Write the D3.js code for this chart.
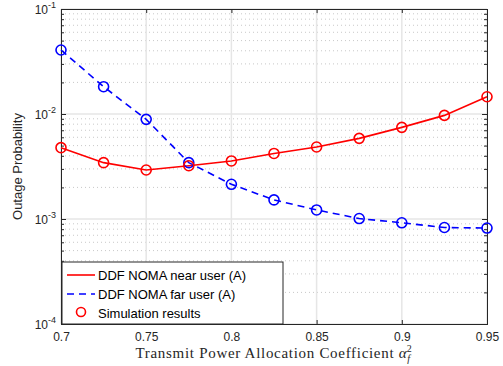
<!DOCTYPE html>
<html>
<head>
<meta charset="utf-8">
<script src="https://cdn.jsdelivr.net/npm/d3@7"></script>
<style>
  body { margin: 0; background: #fff; }
  text { font-family: "Liberation Sans", Arial, sans-serif; }
</style>
</head>
<body>
<div id="chart"></div>
<script>
// data
const alpha = [0.7, 0.725, 0.75, 0.775, 0.8, 0.825, 0.85, 0.875, 0.9, 0.925, 0.95];
const nearUser = [4.78e-3, 3.44e-3, 2.93e-3, 3.22e-3, 3.57e-3, 4.21e-3, 4.85e-3, 5.86e-3, 7.46e-3, 9.7e-3, 1.46e-2];
const farUser = [4.07e-2, 1.82e-2, 8.89e-3, 3.44e-3, 2.14e-3, 1.52e-3, 1.22e-3, 1.01e-3, 9.2e-4, 8.3e-4, 8.2e-4];
const xTicks = [0.7, 0.75, 0.8, 0.85, 0.9, 0.95];
const yDecades = [-4, -3, -2, -1];
const legendItems = ["DDF NOMA near user (A)", "DDF NOMA far user (A)", "Simulation results"];

const W = 503, H = 366;
const margin = { left: 61, right: 16, top: 9, bottom: 42 };
const innerW = W - margin.left - margin.right;
const innerH = H - margin.top - margin.bottom;

const svg = d3.select("#chart").append("svg").attr("width", W).attr("height", H);
const g = svg.append("g").attr("transform", `translate(${margin.left},${margin.top})`);

const x = d3.scaleLinear().domain([0.7, 0.95]).range([0, innerW]);
const y = d3.scaleLog().domain([1e-4, 1e-1]).range([innerH, 0]);

// minor grid (dotted)
const minor = [];
for (let e = -4; e < -1; e++) for (let m = 2; m <= 9; m++) minor.push(m * Math.pow(10, e));
g.append("g").selectAll("line").data(minor).join("line")
  .attr("x1", 0).attr("x2", innerW)
  .attr("y1", d => y(d)).attr("y2", d => y(d))
  .attr("stroke", "#c8c8c8").attr("stroke-width", 1).attr("stroke-dasharray", "1,3");

// major grid
g.append("g").selectAll("line").data(xTicks).join("line")
  .attr("x1", d => x(d)).attr("x2", d => x(d)).attr("y1", 0).attr("y2", innerH)
  .attr("stroke", "#e6e6e6").attr("stroke-width", 1.5);
g.append("g").selectAll("line").data(yDecades).join("line")
  .attr("x1", 0).attr("x2", innerW)
  .attr("y1", d => y(Math.pow(10, d))).attr("y2", d => y(Math.pow(10, d)))
  .attr("stroke", "#e6e6e6").attr("stroke-width", 1.5);

// axes (ticks inside, boxed)
const axisColor = "#262626";
const axB = g.append("g").attr("transform", `translate(0,${innerH})`)
  .call(d3.axisBottom(x).tickValues(xTicks).tickSize(-4).tickPadding(8).tickFormat(d => d3.format("")(d)));
const axT = g.append("g")
  .call(d3.axisTop(x).tickValues(xTicks).tickSize(-4).tickFormat(""));
const axL = g.append("g")
  .call(d3.axisLeft(y).tickValues(yDecades.map(d => Math.pow(10, d))).tickSize(-5).tickPadding(6).tickFormat(""));
const axR = g.append("g").attr("transform", `translate(${innerW},0)`)
  .call(d3.axisRight(y).tickValues(yDecades.map(d => Math.pow(10, d))).tickSize(-5).tickFormat(""));
const axLm = g.append("g").call(d3.axisLeft(y).tickValues(minor).tickSize(-3).tickFormat(""));
const axRm = g.append("g").attr("transform", `translate(${innerW},0)`)
  .call(d3.axisRight(y).tickValues(minor).tickSize(-3).tickFormat(""));
[axB, axT, axL, axR, axLm, axRm].forEach(a => {
  a.select(".domain").attr("stroke", axisColor).attr("stroke-width", 1);
  a.selectAll(".tick line").attr("stroke", axisColor);
  a.selectAll("text").attr("fill", axisColor).attr("font-size", 12);
});

// y labels with superscripts
const yl = g.append("g").selectAll("text").data(yDecades).join("text")
  .attr("x", -5).attr("y", d => y(Math.pow(10, d)) + 5)
  .attr("text-anchor", "end").attr("fill", axisColor).attr("font-size", 12);
yl.append("tspan").text("10");
yl.append("tspan").attr("dy", -6).attr("font-size", 9).text(d => "-" + (-d));

// axis titles
svg.append("text")
  .attr("transform", `translate(22,${margin.top + innerH / 2}) rotate(-90)`)
  .attr("text-anchor", "middle").attr("font-size", 13).attr("fill", axisColor)
  .text("Outage Probability");
const xt = svg.append("text")
  .attr("x", margin.left + innerW / 2).attr("y", 358)
  .attr("text-anchor", "middle").attr("font-size", 15).attr("fill", axisColor)
  .attr("letter-spacing", 0.7)
  .style("font-family", "'Liberation Serif', serif");
xt.append("tspan").text("Transmit Power Allocation Coefficient ");
xt.append("tspan").attr("font-style", "italic").text("\u03b1");
xt.append("tspan").attr("font-size", 10).attr("dy", 4).attr("font-style", "italic").text("f");
xt.append("tspan").attr("font-size", 10).attr("dx", -4).attr("dy", -10).text("2");

// series
const line = d3.line().x(d => x(d[0])).y(d => y(d[1]));
const near = alpha.map((a, i) => [a, nearUser[i]]);
const far = alpha.map((a, i) => [a, farUser[i]]);

g.append("path").datum(far).attr("d", line).attr("fill", "none")
  .attr("stroke", "#0000ff").attr("stroke-width", 1.6).attr("stroke-dasharray", "7,5");
g.append("path").datum(near).attr("d", line).attr("fill", "none")
  .attr("stroke", "#ff0000").attr("stroke-width", 1.6);

g.append("g").selectAll("circle").data(far).join("circle")
  .attr("cx", d => x(d[0])).attr("cy", d => y(d[1])).attr("r", 5)
  .attr("fill", "none").attr("stroke", "#0000ff").attr("stroke-width", 1.6);
g.append("g").selectAll("circle").data(near).join("circle")
  .attr("cx", d => x(d[0])).attr("cy", d => y(d[1])).attr("r", 5)
  .attr("fill", "none").attr("stroke", "#ff0000").attr("stroke-width", 1.6);

// legend
const lg = g.append("g").attr("transform", `translate(1,${innerH - 62})`);
lg.append("rect").attr("width", 221).attr("height", 62)
  .attr("fill", "#fff").attr("stroke", axisColor).attr("stroke-width", 1);
const rowY = [13, 32, 51];
lg.append("line").attr("x1", 5).attr("x2", 33).attr("y1", rowY[0]).attr("y2", rowY[0])
  .attr("stroke", "#ff0000").attr("stroke-width", 1.6);
lg.append("line").attr("x1", 5).attr("x2", 33).attr("y1", rowY[1]).attr("y2", rowY[1])
  .attr("stroke", "#0000ff").attr("stroke-width", 1.6).attr("stroke-dasharray", "7,5");
lg.append("circle").attr("cx", 19).attr("cy", rowY[2] - 1).attr("r", 4.5)
  .attr("fill", "none").attr("stroke", "#ff0000").attr("stroke-width", 1.6);
lg.selectAll("text.lbl").data(legendItems).join("text").attr("class", "lbl")
  .attr("x", 36).attr("y", (d, i) => rowY[i] + 5)
  .attr("font-size", 13).attr("fill", "#000").text(d => d);
</script>
</body>
</html>
